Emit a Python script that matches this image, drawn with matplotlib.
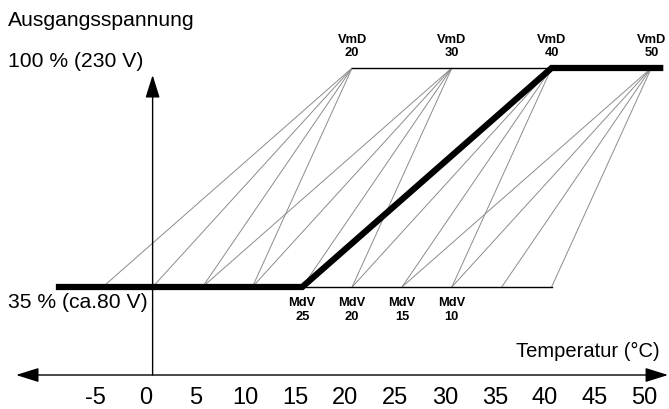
import matplotlib
matplotlib.use("Agg")
import matplotlib.pyplot as plt

plt.rcParams["font.family"] = ["Liberation Sans", "DejaVu Sans"]

# data (temperature in degC, output voltage in %)
vmd_values = [20, 30, 40, 50]        # full voltage reached at (VmD)
mdv_values = [25, 20, 15, 10]        # minimum voltage below (MdV = span)
v_min = 35
v_max = 100
active_vmd = 40
active_mdv = 25
tick_temps = [-5, 0, 5, 10, 15, 20, 25, 30, 35, 40, 45, 50]
y_title = "Ausgangsspannung"
top_label = "100 % (230 V)"
bottom_label = "35 % (ca.80 V)"
x_title = "Temperatur (°C)"

fig = plt.figure(figsize=(6.69, 4.09), dpi=100)
ax = fig.add_axes([0, 0, 1, 1])
ax.set_xlim(-15.30, 51.77)
ax.set_ylim(-1.21, 120.18)
ax.axis("off")

fan_color = "0.55"

# fan of thin lines: every VmD / MdV combination
for vmd in vmd_values:
    for mdv in mdv_values:
        ax.plot([vmd - mdv, vmd], [v_min, v_max], color=fan_color, lw=0.7,
                solid_capstyle="butt", zorder=2)

# thin frame lines at min / max level
ax.plot([min(vmd_values), active_vmd], [v_max, v_max], color="black", lw=1.0, zorder=3)
ax.plot([active_vmd - active_mdv, active_vmd], [v_min, v_min], color="black", lw=1.0, zorder=3)

# thick active characteristic
ax.plot([-9.7, active_vmd - active_mdv, active_vmd, 51.2],
        [v_min, v_min, v_max, v_max], color="black", lw=4.5,
        solid_capstyle="butt", solid_joinstyle="miter", zorder=4)

# axes arrows
y_axis_level = 8.88
ax.annotate("", xy=(0, 97.9), xytext=(0, y_axis_level),
            arrowprops=dict(arrowstyle="-|>,head_length=0.7,head_width=0.22",
                            mutation_scale=20, color="black", lw=1.0,
                            shrinkA=0, shrinkB=0))
ax.annotate("", xy=(51.67, y_axis_level), xytext=(-13.69, y_axis_level),
            arrowprops=dict(arrowstyle="<|-|>,head_length=0.7,head_width=0.22",
                            mutation_scale=20, color="black", lw=1.0,
                            shrinkA=0, shrinkB=0))

# tick labels
for t in tick_temps:
    ax.text(t - 0.7, 2.05, str(t), fontsize=17, ha="center", va="center")

# VmD labels
for vmd in vmd_values:
    ax.text(vmd, 106.5, "VmD\n{}".format(vmd), fontsize=9.3, fontweight="bold",
            ha="center", va="center", linespacing=1.1)

# MdV labels
for mdv in mdv_values:
    ax.text(active_vmd - mdv, 28.2, "MdV\n{}".format(mdv), fontsize=9.3,
            fontweight="bold", ha="center", va="center", linespacing=1.25)

ax.text(-14.5, 113.95, y_title, fontsize=15.2, ha="left", va="center")
ax.text(-14.5, 101.8, top_label, fontsize=15.2, ha="left", va="center")
ax.text(-14.5, 30.5, bottom_label, fontsize=15.2, ha="left", va="center")
ax.text(50.85, 16.0, x_title, fontsize=14.5, ha="right", va="center")

fig.savefig("out.png", dpi=100)
